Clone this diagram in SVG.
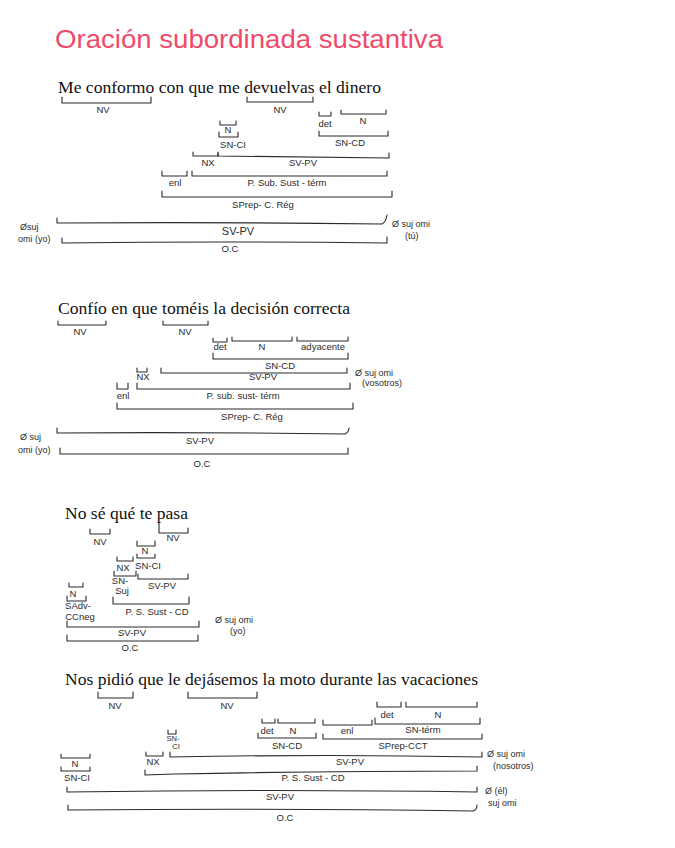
<svg xmlns="http://www.w3.org/2000/svg" width="675" height="848" viewBox="0 0 675 848">
<style>
.bg{fill:#ffffff}
.title{font-family:"Liberation Sans",Arial,sans-serif;font-size:25px;fill:#ee4b6a}
.sent{font-family:"Liberation Serif","Times New Roman",serif;font-size:17.5px;fill:#111}
.br{fill:none;stroke:#2b2b2b;stroke-width:1.1;stroke-linecap:round;stroke-linejoin:round}
.lb{font-family:"Liberation Sans",Arial,sans-serif;font-size:9.5px;fill:#2b2b2b;text-anchor:middle}
.sm{font-family:"Liberation Sans",Arial,sans-serif;font-size:7.5px;fill:#2b2b2b;text-anchor:middle}
.lg{font-family:"Liberation Sans",Arial,sans-serif;font-size:11px;fill:#2b2b2b;text-anchor:middle}
.om{font-family:"Liberation Sans",Arial,sans-serif;font-size:9px;fill:#2b2b2b}
</style>
<rect class="bg" x="0" y="0" width="675" height="848"/>
<text class="title" x="55" y="48" textLength="388" lengthAdjust="spacingAndGlyphs">Oración subordinada sustantiva</text>

<!-- Sentence 1 -->
<g id="s1">
<text class="sent" x="58" y="93" textLength="323" lengthAdjust="spacingAndGlyphs">Me conformo con que me devuelvas el dinero</text>
<g id="s1-nv1"><path class="br" d="M62,97 V103 H151 V97"/><text class="lb" x="103" y="113">NV</text></g>
<g id="s1-nv2"><path class="br" d="M247,97 V102 H313 V97"/><text class="lb" x="280" y="113">NV</text></g>
<g id="s1-det"><path class="br" d="M319,112 V116 H331 V112"/><text class="lb" x="325" y="127">det</text></g>
<g id="s1-n"><path class="br" d="M341,110 V114 H386 V110"/><text class="lb" x="363" y="124">N</text></g>
<g id="s1-sncd"><path class="br" d="M319,131 V136 H388 V131"/><text class="lb" x="350" y="146">SN-CD</text></g>
<g id="s1-nci"><path class="br" d="M220,121 V125 H236 V121"/><text class="lb" x="228" y="133">N</text></g>
<g id="s1-snci"><path class="br" d="M219,132 V137 H238 V132"/><text class="lb" x="233" y="148">SN-CI</text></g>
<g id="s1-nx"><path class="br" d="M193,152 V156 H218 V152"/><text class="lb" x="208" y="166">NX</text></g>
<g id="s1-svpv"><path class="br" d="M218,153 V156 Q300,157 389,158 V153"/><text class="lb" x="303" y="166">SV-PV</text></g>
<g id="s1-enl"><path class="br" d="M162,171 V176 H187 V171"/><text class="lb" x="175" y="186">enl</text></g>
<g id="s1-psub"><path class="br" d="M192,171 V176 H387 V171"/><text class="lb" x="287" y="186">P. Sub. Sust  - térm</text></g>
<g id="s1-sprep"><path class="br" d="M162,191 V197 H392 V191"/><text class="lb" x="263" y="208">SPrep- C. Rég</text></g>
<g id="s1-svpv2"><path class="br" d="M57,218 V223 Q220,222 382,224 Q386,222 387,215"/><text class="lg" x="238" y="235">SV-PV</text></g>
<g id="s1-oc"><path class="br" d="M62,238 V243 Q220,241 387,243 V237"/><text class="lb" x="230" y="252">O.C</text></g>
<g id="s1-suj-l"><text class="om" x="20" y="230">Øsuj</text><text class="om" x="18" y="242">omi (yo)</text></g>
<g id="s1-suj-r"><text class="om" x="392" y="227">Ø suj omi</text><text class="om" x="405" y="239">(tú)</text></g>
</g>

<!-- Sentence 2 -->
<g id="s2">
<text class="sent" x="58" y="314" textLength="292" lengthAdjust="spacingAndGlyphs">Confío en que toméis la decisión correcta</text>
<g id="s2-nv1"><path class="br" d="M58,321 V325 H106 V321"/><text class="lb" x="80" y="335">NV</text></g>
<g id="s2-nv2"><path class="br" d="M163,321 V325 H208 V321"/><text class="lb" x="185" y="335">NV</text></g>
<g id="s2-det"><path class="br" d="M213,338 V342 H227 V338"/><text class="lb" x="220" y="350">det</text></g>
<g id="s2-n"><path class="br" d="M232,337 V341 H292 V337"/><text class="lb" x="262" y="350">N</text></g>
<g id="s2-ady"><path class="br" d="M297,337 V341 H348 V337"/><text class="lb" x="323" y="350">adyacente</text></g>
<g id="s2-sncd"><path class="br" d="M213,353 V359 H348 V353"/><text class="lb" x="280" y="369">SN-CD</text></g>
<g id="s2-nx"><path class="br" d="M137,368 V372 H147 V368"/><text class="lb" x="143" y="380">NX</text></g>
<g id="s2-svpv"><path class="br" d="M161,368 V373 H347 V368"/><text class="lb" x="263" y="380">SV-PV</text></g>
<g id="s2-enl"><path class="br" d="M117,383 V389 H128 V383"/><text class="lb" x="123" y="399">enl</text></g>
<g id="s2-psub"><path class="br" d="M137,383 V389 H350 V383"/><text class="lb" x="243" y="399">P. sub. sust- térm</text></g>
<g id="s2-sprep"><path class="br" d="M117,403 V409 H353 V403"/><text class="lb" x="252" y="420">SPrep- C. Rég</text></g>
<g id="s2-svpv2"><path class="br" d="M57,428 V433 Q200,432 345,434 Q349,432 349,428"/><text class="lb" x="200" y="444">SV-PV</text></g>
<g id="s2-oc"><path class="br" d="M60,448 V454 H348 V448"/><text class="lb" x="202" y="467">O.C</text></g>
<g id="s2-suj-l"><text class="om" x="20" y="440">Ø suj</text><text class="om" x="18" y="453">omi (yo)</text></g>
<g id="s2-suj-r"><text class="om" x="355" y="376">Ø suj omi</text><text class="om" x="362" y="386">(vosotros)</text></g>
</g>

<!-- Sentence 3 -->
<g id="s3">
<text class="sent" x="65" y="519" textLength="123" lengthAdjust="spacingAndGlyphs">No sé qué te pasa</text>
<g id="s3-nv1"><path class="br" d="M90,529 V534 H110 V529"/><text class="lb" x="100" y="545">NV</text></g>
<g id="s3-nv2"><path class="br" d="M159,523 V533 H188 V528"/><text class="lb" x="173" y="541">NV</text></g>
<g id="s3-n"><path class="br" d="M137,541 V546 H155 V541"/><text class="lb" x="145" y="554">N</text></g>
<g id="s3-snci"><path class="br" d="M137,554 V558 H155 V554"/><text class="lb" x="148" y="569">SN-CI</text></g>
<g id="s3-nx"><path class="br" d="M117,557 V561 H133 V557"/><text class="lb" x="123" y="571">NX</text></g>
<g id="s3-snsuj"><path class="br" d="M114,571 V576 H136 V571"/><text class="lb" x="120" y="584">SN-</text><text class="lb" x="122" y="594">Suj</text></g>
<g id="s3-svpv"><path class="br" d="M138,574 V579 H188 V574"/><text class="lb" x="162" y="589">SV-PV</text></g>
<g id="s3-psub"><path class="br" d="M113,597 V604 H189 V597"/><text class="lb" x="157" y="615">P. S. Sust - CD</text></g>
<g id="s3-nadv"><path class="br" d="M69,583 V587 H83 V583"/><text class="lb" x="73" y="597">N</text></g>
<g id="s3-sadv"><path class="br" d="M67,596 V601 H86 V596"/><text class="lb" x="78" y="609">SAdv-</text><text class="lb" x="80" y="620">CCneg</text></g>
<g id="s3-svpv2"><path class="br" d="M67,621 V627 H199 V621"/><text class="lb" x="132" y="636">SV-PV</text></g>
<g id="s3-oc"><path class="br" d="M67,635 V641 H198 V635"/><text class="lb" x="130" y="651">O.C</text></g>
<g id="s3-suj-r"><text class="om" x="215" y="623">Ø suj omi</text><text class="om" x="230" y="634">(yo)</text></g>
</g>

<!-- Sentence 4 -->
<g id="s4">
<text class="sent" x="65" y="685" textLength="413" lengthAdjust="spacingAndGlyphs">Nos pidió que le dejásemos la moto durante las vacaciones</text>
<g id="s4-nv1"><path class="br" d="M98,692 V698 H133 V692"/><text class="lb" x="115" y="709">NV</text></g>
<g id="s4-nv2"><path class="br" d="M188,692 V698 H257 V692"/><text class="lb" x="227" y="709">NV</text></g>
<g id="s4-det"><path class="br" d="M262,719 V723 H275 V719"/><text class="lb" x="267" y="734">det</text></g>
<g id="s4-n"><path class="br" d="M278,719 V723 H315 V719"/><text class="lb" x="293" y="734">N</text></g>
<g id="s4-sncd"><path class="br" d="M258,733 V738 H316 V733"/><text class="lb" x="287" y="749">SN-CD</text></g>
<g id="s4-det2"><path class="br" d="M377,702 V707 H401 V702"/><text class="lb" x="387" y="718">det</text></g>
<g id="s4-n2"><path class="br" d="M406,702 V707 H477 V702"/><text class="lb" x="438" y="718">N</text></g>
<g id="s4-enl"><path class="br" d="M323,720 V725 H372 V720"/><text class="lb" x="347" y="734">enl</text></g>
<g id="s4-snterm"><path class="br" d="M375,718 V724 H480 V718"/><text class="lb" x="423" y="733">SN-térm</text></g>
<g id="s4-sprep"><path class="br" d="M323,734 V739 H482 V734"/><text class="lb" x="403" y="749">SPrep-CCT</text></g>
<g id="s4-snci"><path class="br" d="M168,730 V734 H176 V730"/><text class="sm" x="173" y="741">SN-</text><text class="sm" x="176" y="749">CI</text></g>
<g id="s4-nx"><path class="br" d="M146,752 V756 H163 V752"/><text class="lb" x="153" y="765">NX</text></g>
<g id="s4-svpv"><path class="br" d="M170,752 V757 Q330,754 482,757 V752"/><text class="lb" x="350" y="765">SV-PV</text></g>
<g id="s4-psub"><path class="br" d="M145,770 V775 L175,774 Q330,771 477,771 V766"/><text class="lb" x="313" y="781">P. S. Sust - CD</text></g>
<g id="s4-suj1"><text class="om" x="487" y="757">Ø suj omi</text><text class="om" x="493" y="769">(nosotros)</text></g>
<g id="s4-nl"><path class="br" d="M61,754 V758 H90 V754"/><text class="lb" x="75" y="767">N</text></g>
<g id="s4-sncil"><path class="br" d="M61,767 V771 H90 V767"/><text class="lb" x="77" y="781">SN-CI</text></g>
<g id="s4-svpv2"><path class="br" d="M67,787 V792 Q280,789 477,792 V787"/><text class="lb" x="280" y="800">SV-PV</text></g>
<g id="s4-oc"><path class="br" d="M68,805 V810 Q280,808 473,811 Q477,810 477,805"/><text class="lb" x="285" y="821">O.C</text></g>
<g id="s4-suj2"><text class="om" x="485" y="794">Ø (él)</text><text class="om" x="488" y="806">suj omi</text></g>
</g>
</svg>
